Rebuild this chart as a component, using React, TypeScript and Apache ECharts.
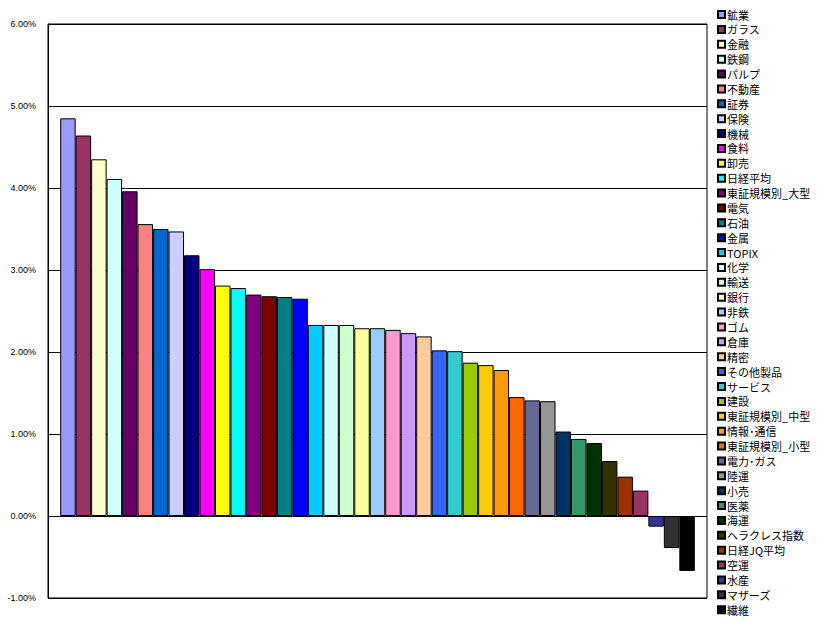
import React, { useEffect, useRef } from "react";
import * as echarts from "echarts";

const sectors: string[] = [
  "鉱業", "ガラス", "金融", "鉄鋼", "パルプ", "不動産", "証券", "保険", "機械", "食料",
  "卸売", "日経平均", "東証規模別_大型", "電気", "石油", "金属", "TOPIX", "化学", "輸送", "銀行",
  "非鉄", "ゴム", "倉庫", "精密", "その他製品", "サービス", "建設", "東証規模別_中型", "情報･通信", "東証規模別_小型",
  "電力･ガス", "陸運", "小売", "医薬", "海運", "ヘラクレス指数", "日経JQ平均", "空運", "水産", "マザーズ",
  "繊維",
];

const changes: number[] = [
  4.85, 4.64, 4.35, 4.11, 3.96, 3.56, 3.50, 3.47, 3.18, 3.01,
  2.81, 2.78, 2.70, 2.68, 2.67, 2.65, 2.33, 2.33, 2.33, 2.29,
  2.29, 2.27, 2.23, 2.19, 2.02, 2.01, 1.87, 1.84, 1.78, 1.45,
  1.41, 1.40, 1.03, 0.94, 0.89, 0.67, 0.48, 0.31, -0.13, -0.39,
  -0.67,
];

const colors: string[] = [
  "#9999FF", "#993366", "#FFFFCC", "#CCFFFF", "#660066", "#FF8080", "#0066CC", "#CCCCFF", "#000080", "#FF00FF",
  "#FFFF00", "#00FFFF", "#800080", "#800000", "#008080", "#0000FF", "#00CCFF", "#CCFFFF", "#CCFFCC", "#FFFF99",
  "#99CCFF", "#FF99CC", "#CC99FF", "#FFCC99", "#3366FF", "#33CCCC", "#99CC00", "#FFCC00", "#FF9900", "#FF6600",
  "#666699", "#969696", "#003366", "#339966", "#003300", "#333300", "#993300", "#993366", "#333399", "#333333",
  "#000000",
];

const yTicks = { min: -1, max: 6, interval: 1 };

export default function App() {
  const ref = useRef<HTMLDivElement>(null);
  useEffect(() => {
    if (!ref.current) return;
    const chart = echarts.init(ref.current, undefined, { renderer: "svg" });
    const series = sectors.map((name, i) => ({
      name,
      type: "bar",
      data: [changes[i]],
      barGap: "0%",
      barCategoryGap: "3.7%",
      itemStyle: { color: colors[i], borderColor: "#000", borderWidth: 1 },
    }));
    chart.setOption({
      animation: false,
      backgroundColor: "#fff",
      grid: {
        left: 48,
        top: 24,
        right: 125,
        bottom: 32,
        show: true,
        borderColor: "#000",
        borderWidth: 1,
        backgroundColor: "transparent",
      },
      legend: {
        type: "plain",
        orient: "vertical",
        left: 717,
        top: 9,
        padding: 0,
        itemWidth: 7,
        itemHeight: 7,
        itemGap: 3.88,
        icon: "rect",
        data: sectors,
        textStyle: {
          fontFamily: "Noto Sans CJK JP",
          fontSize: 11,
          lineHeight: 11,
          color: "#000",
          padding: [0, 0, 0, -3],
        },
      },
      xAxis: {
        type: "category",
        data: [""],
        axisLine: { show: false },
        axisTick: { show: false },
        axisLabel: { show: false },
      },
      yAxis: {
        type: "value",
        min: yTicks.min,
        max: yTicks.max,
        interval: yTicks.interval,
        axisLine: { show: true, lineStyle: { color: "#000" } },
        axisTick: { show: false },
        splitLine: { show: true, lineStyle: { color: "#000", width: 1 } },
        axisLabel: {
          margin: 12,
          fontSize: 9,
          fontFamily: "Liberation Sans",
          color: "#000",
          formatter: (v: number) => v.toFixed(2) + "%",
        },
      },
      series,
    });
    return () => chart.dispose();
  }, []);
  return (
    <div
      ref={ref}
      style={{ position: "fixed", left: 0, top: 0, width: 832, height: 630 }}
    />
  );
}
